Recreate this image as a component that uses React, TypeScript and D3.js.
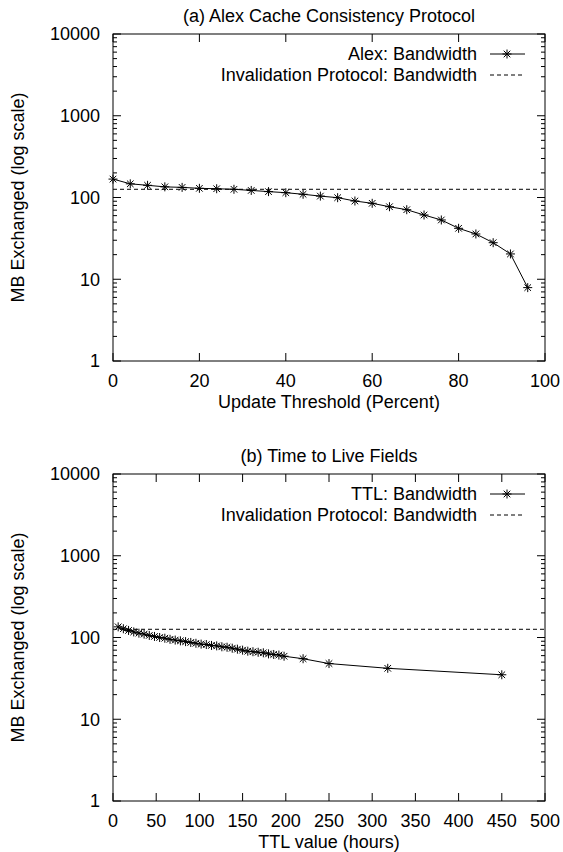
import React, { useEffect, useRef } from 'react';
import * as d3 from 'd3';

// (a) Alex protocol
const alexThreshold = [0, 4, 8, 12, 16, 20, 24, 28, 32, 36, 40, 44, 48, 52, 56, 60, 64, 68, 72, 76, 80, 84, 88, 92, 96];
const alexBandwidth = [168, 147, 141, 135, 133, 129.5, 128, 126, 122, 118, 114.5, 109.5, 104, 99.5, 90.6, 84.9, 77.1, 70.9, 61.1, 53.1, 42, 35.8, 28, 20.4, 7.9];

// (b) TTL
const ttlHours = [6, 12, 18, 24, 30, 36, 42, 48, 54, 60, 66, 72, 78, 84, 90, 96, 102, 108, 114, 120, 126, 132, 138, 144, 150, 156, 162, 168, 174, 180, 186, 192, 198, 220, 250, 318, 450];
const ttlBandwidth = [135, 128, 122, 117, 113, 110, 106, 103, 100, 98, 95, 93, 91, 89, 87, 85, 83, 82, 80, 79, 77, 76, 74, 72, 70, 68, 67, 66, 65, 63, 62, 61, 59, 55, 48, 42, 35];

const invalidationBandwidth = 126;

const yTicks = [1, 10, 100, 1000, 10000];
const alexXTicks = [0, 20, 40, 60, 80, 100];
const ttlXTicks = [0, 50, 100, 150, 200, 250, 300, 350, 400, 450, 500];

const font = '"Liberation Sans", Arial, Helvetica, sans-serif';
const fontSize = 18;
const starPath = 'M-4.5,0H4.5M0,-4.5V4.5M-3.3,-3.3L3.3,3.3M-3.3,3.3L3.3,-3.3';

export default function App() {
  const ref = useRef<SVGSVGElement>(null);

  useEffect(() => {
    document.body.style.margin = '0';
    const svg = d3.select(ref.current);
    svg.selectAll('*').remove();

    const panel = (opts: any) => {
      const { top, bottom, xDomain, xTicks, xs, ys, title, xLabel, seriesLabel } = opts;
      const left = 113, right = 545;
      const g = svg.append('g').attr('font-family', font).attr('font-size', fontSize);

      const x = d3.scaleLinear().domain(xDomain).range([left, right]);
      const y = d3.scaleLog().domain([1, 10000]).range([bottom, top]);

      // frame
      g.append('rect')
        .attr('x', left).attr('y', top)
        .attr('width', right - left).attr('height', bottom - top)
        .attr('fill', 'none').attr('stroke', '#000');

      // ticks (inside, mirrored)
      const tickG = g.append('g').attr('stroke', '#000').attr('stroke-width', 1);
      xTicks.forEach((t: number) => {
        tickG.append('line').attr('x1', x(t)).attr('x2', x(t)).attr('y1', bottom).attr('y2', bottom - 8);
        tickG.append('line').attr('x1', x(t)).attr('x2', x(t)).attr('y1', top).attr('y2', top + 8);
      });
      yTicks.forEach(t => {
        tickG.append('line').attr('x1', left).attr('x2', left + 8).attr('y1', y(t)).attr('y2', y(t));
        tickG.append('line').attr('x1', right).attr('x2', right - 8).attr('y1', y(t)).attr('y2', y(t));
      });
      yTicks.slice(0, -1).forEach(d => {
        for (let k = 2; k <= 9; k++) {
          tickG.append('line').attr('x1', left).attr('x2', left + 4).attr('y1', y(k * d)).attr('y2', y(k * d));
          tickG.append('line').attr('x1', right).attr('x2', right - 4).attr('y1', y(k * d)).attr('y2', y(k * d));
        }
      });

      // tick labels
      g.append('g').selectAll('text').data(yTicks).enter().append('text')
        .attr('x', left - 13).attr('y', d => y(d)).attr('dy', '0.36em')
        .attr('text-anchor', 'end').text(d => d);
      g.append('g').selectAll('text').data(xTicks).enter().append('text')
        .attr('x', (d: number) => x(d)).attr('y', bottom + 20).attr('dy', '0.36em')
        .attr('text-anchor', 'middle').text((d: number) => d);

      // titles
      g.append('text').attr('x', (left + right) / 2).attr('y', top - 18).attr('dy', '0.36em')
        .attr('text-anchor', 'middle').text(title);
      g.append('text').attr('x', (left + right) / 2).attr('y', bottom + 41).attr('dy', '0.36em')
        .attr('text-anchor', 'middle').text(xLabel);
      g.append('text')
        .attr('transform', `translate(18,${(top + bottom) / 2}) rotate(-90)`)
        .attr('dy', '0.36em').attr('text-anchor', 'middle')
        .text('MB Exchanged (log scale)');

      // invalidation protocol
      g.append('line')
        .attr('x1', left).attr('x2', right)
        .attr('y1', y(invalidationBandwidth)).attr('y2', y(invalidationBandwidth))
        .attr('stroke', '#000').attr('stroke-dasharray', '4,3');

      // series
      const pts = xs.map((v: number, i: number) => [v, ys[i]]);
      const line = d3.line<any>().x(d => x(d[0])).y(d => y(d[1]));
      g.append('path').datum(pts).attr('d', line).attr('fill', 'none').attr('stroke', '#000');
      g.append('g').selectAll('path').data(pts).enter().append('path')
        .attr('transform', (d: any) => `translate(${x(d[0])},${y(d[1])})`)
        .attr('d', starPath).attr('stroke', '#000').attr('fill', 'none');

      // legend
      const ly1 = top + 20, ly2 = top + 41;
      g.append('text').attr('x', 477).attr('y', ly1).attr('dy', '0.36em').attr('text-anchor', 'end').text(seriesLabel);
      g.append('text').attr('x', 477).attr('y', ly2).attr('dy', '0.36em').attr('text-anchor', 'end').text('Invalidation Protocol: Bandwidth');
      g.append('line').attr('x1', 490).attr('x2', 525).attr('y1', ly1).attr('y2', ly1).attr('stroke', '#000');
      g.append('path').attr('transform', `translate(507,${ly1})`).attr('d', starPath).attr('stroke', '#000');
      g.append('line').attr('x1', 490).attr('x2', 525).attr('y1', ly2).attr('y2', ly2)
        .attr('stroke', '#000').attr('stroke-dasharray', '4,3');
    };

    panel({
      top: 34, bottom: 361, xDomain: [0, 100], xTicks: alexXTicks,
      xs: alexThreshold, ys: alexBandwidth,
      title: '(a) Alex Cache Consistency Protocol',
      xLabel: 'Update Threshold (Percent)', seriesLabel: 'Alex: Bandwidth',
    });
    panel({
      top: 474, bottom: 801, xDomain: [0, 500], xTicks: ttlXTicks,
      xs: ttlHours, ys: ttlBandwidth,
      title: '(b) Time to Live Fields',
      xLabel: 'TTL value (hours)', seriesLabel: 'TTL: Bandwidth',
    });
  }, []);

  return <svg ref={ref} width={563} height={852} style={{ display: 'block', background: '#fff' }} />;
}
